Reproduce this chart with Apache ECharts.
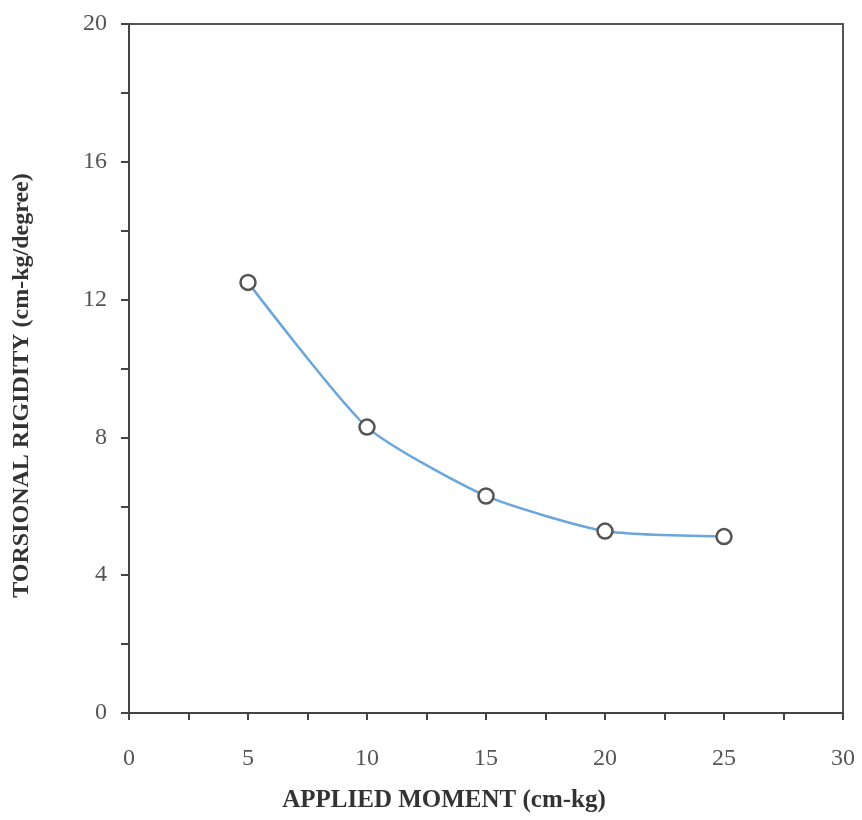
<!DOCTYPE html>
<html><head><meta charset="utf-8">
<script src="https://cdn.jsdelivr.net/npm/echarts@6/dist/echarts.min.js"></script>
<style>html,body{margin:0;padding:0;background:#fff}#c{width:862px;height:820px}</style>
</head><body><div id="c"></div>
<script>
const moment = [5, 10, 15, 20, 25];
const rigidity = [12.5, 8.3, 6.3, 5.28, 5.12];
const xTicks = [0, 5, 10, 15, 20, 25, 30];
const yTicks = [0, 4, 8, 12, 16, 20];

const chart = echarts.init(document.getElementById('c'));
const font = '"Liberation Serif", "Times New Roman", serif';
chart.setOption({
  animation: false,
  backgroundColor: '#fff',
  grid: {left: 129, right: 19, top: 24, bottom: 107, show: true, borderColor: '#555', borderWidth: 2},
  xAxis: {
    type: 'value', min: xTicks[0], max: xTicks[xTicks.length - 1], interval: 5,
    name: 'APPLIED MOMENT (cm-kg)', nameLocation: 'middle', nameGap: 75,
    nameTextStyle: {fontFamily: font, fontSize: 25, fontWeight: 'bold', color: '#333', padding: [0, 84, 0, 0]},
    axisLine: {lineStyle: {color: '#444', width: 2}},
    axisTick: {show: true, length: 7, lineStyle: {color: '#444', width: 2}},
    minorTick: {show: true, splitNumber: 2, length: 7, lineStyle: {color: '#444', width: 2}},
    axisLabel: {fontFamily: font, fontSize: 24, color: '#555', margin: 34},
    splitLine: {show: false}
  },
  yAxis: {
    type: 'value', min: yTicks[0], max: yTicks[yTicks.length - 1], interval: 4,
    name: 'TORSIONAL RIGIDITY (cm-kg/degree)', nameLocation: 'middle', nameGap: 95,
    nameTextStyle: {fontFamily: font, fontSize: 24, fontWeight: 'bold', color: '#333', padding: [0, 34, 0, 0]},
    axisLine: {lineStyle: {color: '#444', width: 2}},
    axisTick: {show: true, length: 8, lineStyle: {color: '#444', width: 2}},
    minorTick: {show: true, splitNumber: 2, length: 8, lineStyle: {color: '#444', width: 2}},
    axisLabel: {fontFamily: font, fontSize: 24, color: '#555', margin: 22},
    splitLine: {show: false}
  },
  series: [{
    type: 'line',
    data: moment.map((m, i) => [m, rigidity[i]]),
    smooth: 0.2,
    symbol: 'circle', symbolSize: 15,
    lineStyle: {color: '#6aa6dc', width: 2.5},
    itemStyle: {color: '#fff', borderColor: '#555', borderWidth: 2.5}
  }]
});
</script></body></html>
